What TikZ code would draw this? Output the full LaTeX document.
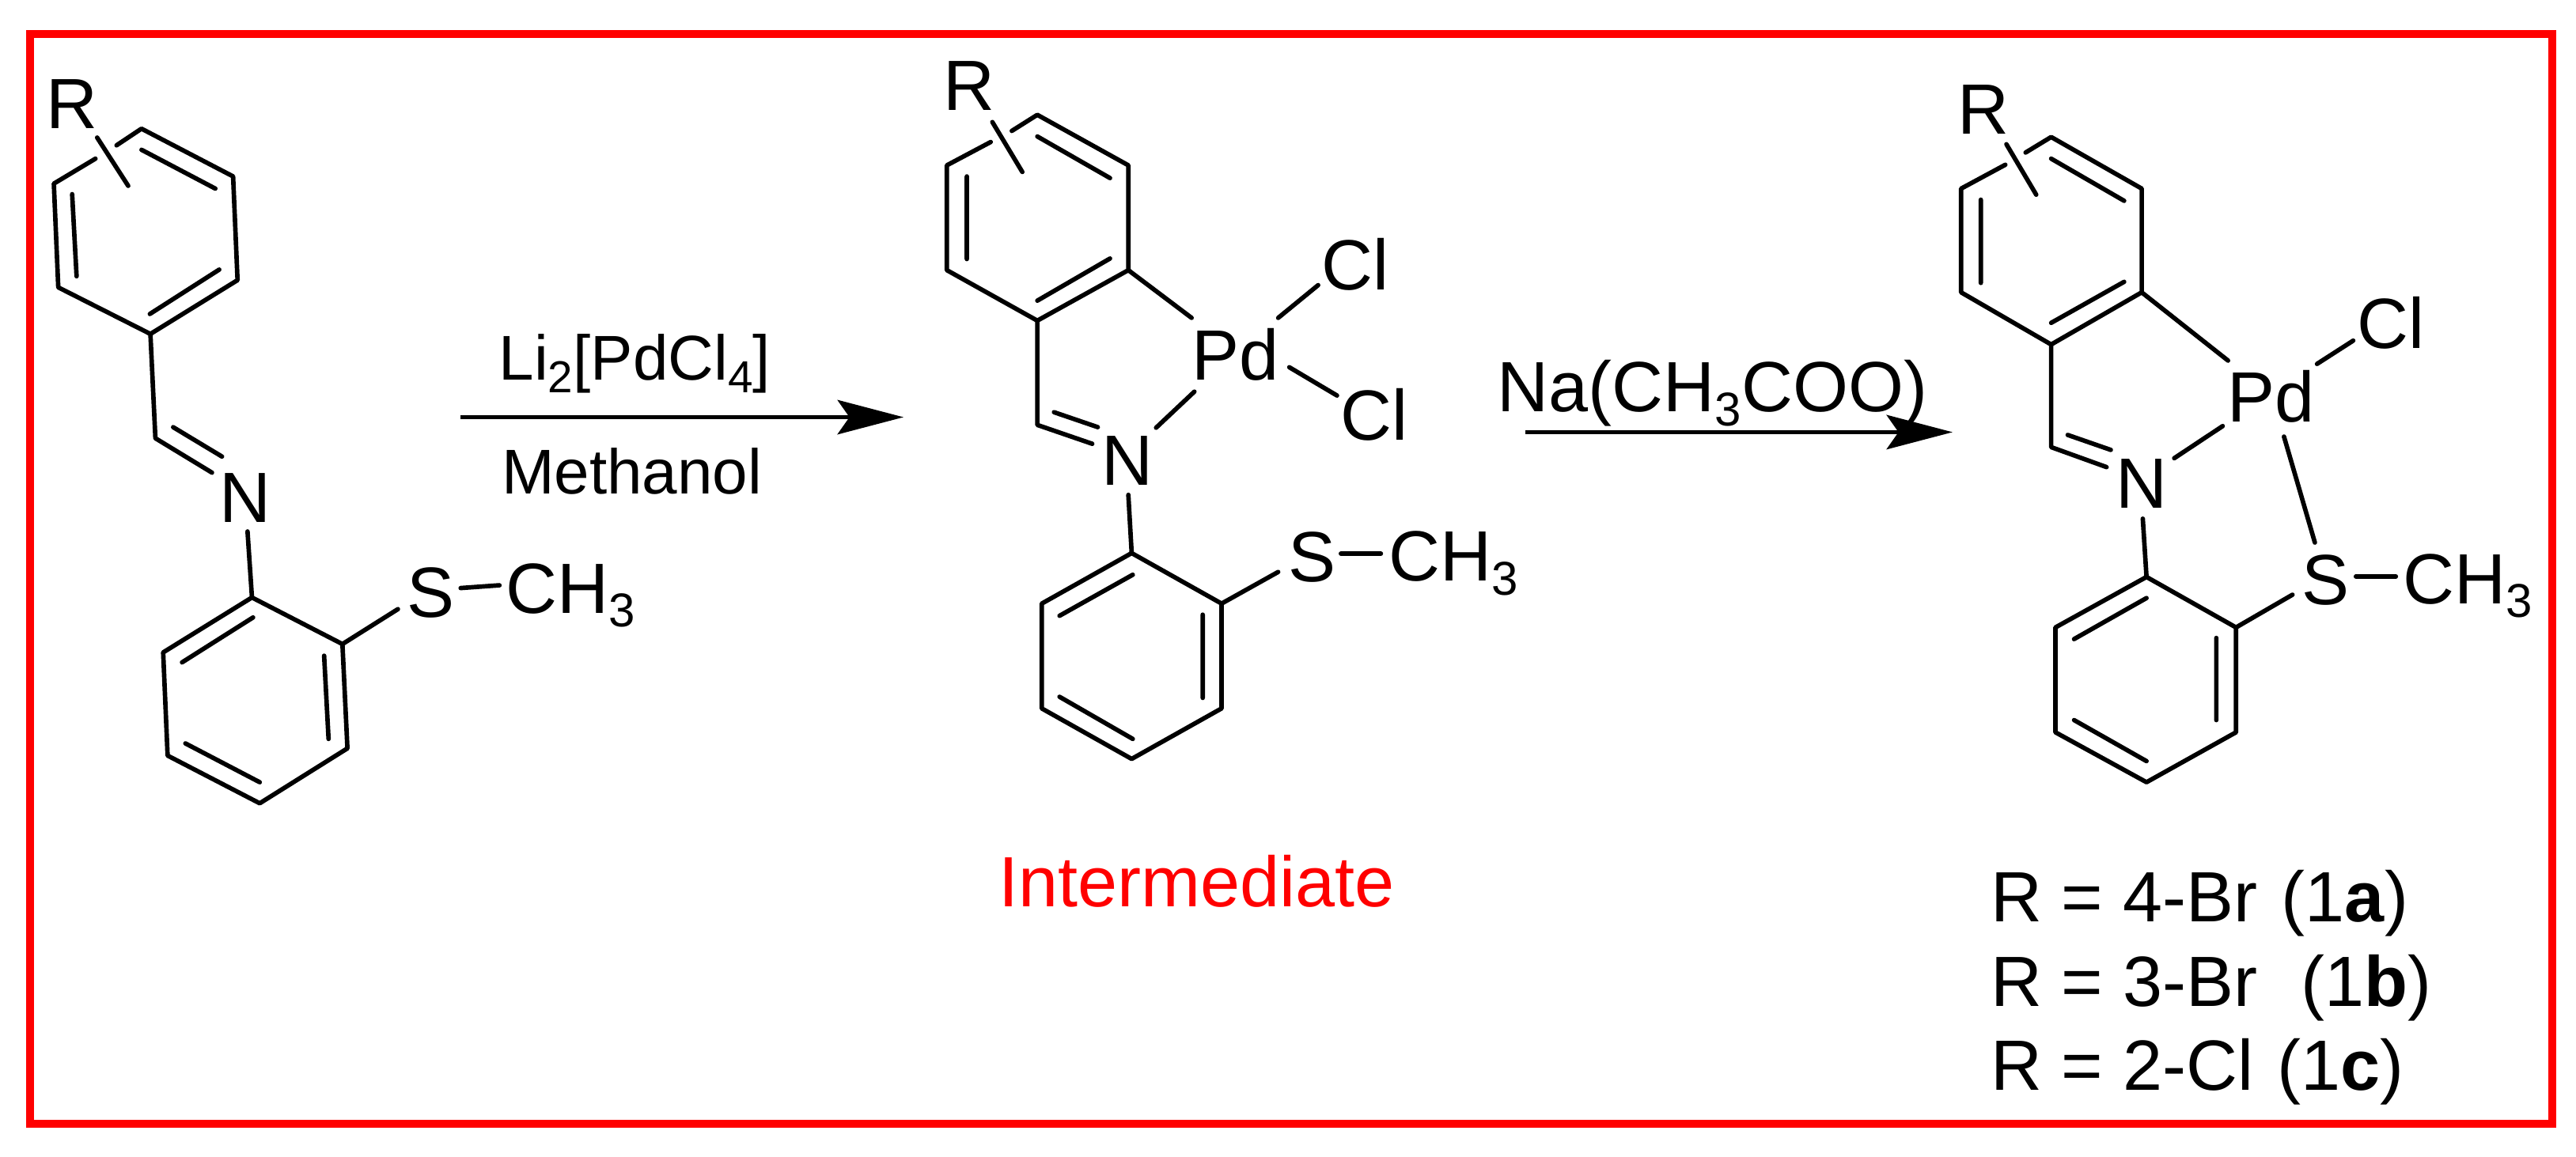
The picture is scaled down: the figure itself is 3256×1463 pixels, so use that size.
\documentclass[tikz,border=0pt]{standalone}
\usepackage{fontspec}
\setmainfont{Liberation Sans}
\usetikzlibrary{arrows.meta}
\newcommand{\sbs}[1]{\raisebox{-5.3pt}{\fontsize{18}{18}\selectfont #1}}
\newcommand{\sbsr}[1]{\raisebox{-4.8pt}{\fontsize{17}{17}\selectfont #1}}
\tikzset{
  bond/.style={line width=1.7pt,line cap=round,line join=round},
  lbl/.style={anchor=base west,inner sep=0pt,outer sep=0pt,font=\fontsize{27}{27}\selectfont},
  reagent/.style={lbl,font=\fontsize{24}{24}\selectfont},
  rxn/.style={line width=1.7pt,-{Stealth[length=25pt,width=13pt,inset=4.5pt]}},
  zoomA/.style={x=0.21045pt,y=-0.21045pt},
  zoomB/.style={x=0.21045pt,y=-0.21045pt,xshift=330pt},
  zoomC/.style={x=0.20202pt,y=-0.21045pt,xshift=660pt}
}
\begin{document}
\begin{tikzpicture}[x=0.3pt,y=-0.3pt]
\useasboundingbox (0,0) rectangle (3256,1463);
\fill[white] (0,0) rectangle (3256,1463);
\draw[red,line width=3pt] (38,43) rectangle (3226,1421);
\node[lbl,text=red] (inter) at (1262,1147) {Intermediate};
\node[lbl] (rowa) at (2516,1166) {R = 4-Br \hspace{1.5pt}(1\textbf{a})};
\node[lbl] (rowb) at (2516,1272) {R = 3-Br \ \hspace{1.5pt}(1\textbf{b})};
\node[lbl] (rowc) at (2516,1378) {R = 2-Cl \hspace{1.5pt}(1\textbf{c})};
% --- first molecule
\begin{scope}[zoomA]
\coordinate (a1) at (255,232);\coordinate (a2) at (420,318);\coordinate (a3) at (428,505);
\coordinate (a4) at (271,602);\coordinate (a5) at (105,518);\coordinate (a6) at (97,331);
\coordinate (ac) at (280,790);
\coordinate (b1) at (454,1077);\coordinate (b2) at (617,1161);\coordinate (b3) at (626,1349);
\coordinate (b4) at (468,1448);\coordinate (b5) at (302,1362);\coordinate (b6) at (294,1176);
\node[lbl] (aR) at (84,232) {R};
\node[lbl] (aN) at (396,942) {N};
\node[lbl] (aS) at (733,1113) {S};
\node[lbl] (aM) at (912,1105) {CH\sbs{3}};
\draw[bond] (210,262)--(a1)--(a2)--(a3)--(a4)--(a5)--(a6)--(172,286);
\draw[bond] (255,270)--(388,340) (395,486)--(270,566) (138,498)--(130,350);
\draw[bond] (175,248)--(231,335);
\draw[bond] (a4)--(ac)--(382,852) (312,770)--(400,823);
\draw[bond] (446,958)--(b1);
\draw[bond] (b1)--(b2)--(b3)--(b4)--(b5)--(b6)--cycle;
\draw[bond] (456,1113)--(328,1194) (584,1182)--(592,1332) (468,1410)--(334,1340);
\draw[bond] (b2)--(717,1098);
\draw[bond] (830,1060)--(900,1055);
\node[reagent] (l1) at (899,685) {Li\sbsr{2}[PdCl\sbsr{4}]};
\node[reagent] (l2) at (904,890) {Methanol};
\coordinate (r1s) at (830,752);\coordinate (r1e) at (1628,752);
\draw[rxn] (r1s)--(r1e);
\end{scope}
% --- second molecule
\begin{scope}[zoomB]
\coordinate (c1) at (301,207);\coordinate (c2) at (465,298);\coordinate (c3) at (465,487);
\coordinate (c4) at (301,578);\coordinate (c5) at (138,487);\coordinate (c6) at (138,298);
\coordinate (cc) at (301,766);
\coordinate (d1) at (471,997);\coordinate (d2) at (633,1088);\coordinate (d3) at (633,1277);
\coordinate (d4) at (471,1368);\coordinate (d5) at (309,1277);\coordinate (d6) at (309,1088);
\node[lbl] (cR) at (132,199) {R};
\node[lbl] (cN) at (417,875) {N};
\node[lbl] (cP) at (580,685) {Pd};
\node[lbl] (cX1) at (813,523) {Cl};
\node[lbl] (cX2) at (847,793) {Cl};
\node[lbl] (cS) at (753,1048) {S};
\node[lbl] (cM) at (934,1047) {CH\sbs{3}};
\draw[bond] (255,236)--(c1)--(c2)--(c3)--(c4)--(c5)--(c6)--(217,256);
\draw[bond] (301,246)--(432,321) (432,466)--(301,542) (174,467)--(174,318);
\draw[bond] (220,220)--(274,310);
\draw[bond] (c4)--(cc)--(400,800) (331,743)--(410,770);
\draw[bond] (465,892)--(d1);
\draw[bond] (c3)--(579,573) (515,771)--(584,706);
\draw[bond] (735,573)--(807,514) (755,662)--(841,713);
\draw[bond] (d1)--(d2)--(d3)--(d4)--(d5)--(d6)--cycle;
\draw[bond] (473,1036)--(341,1110) (599,1108)--(599,1258) (473,1332)--(341,1256);
\draw[bond] (d2)--(735,1031);
\draw[bond] (848,998)--(920,998);
\node[lbl] (l3) at (1130,742) {Na(CH\sbs{3}COO)};
\coordinate (r2s) at (1180,779);
\end{scope}
% --- third molecule
\begin{scope}[zoomC]
\coordinate (e1) at (583,247);\coordinate (e2) at (753,340);\coordinate (e3) at (753,527);
\coordinate (e4) at (583,621);\coordinate (e5) at (414,527);\coordinate (e6) at (414,340);
\coordinate (ec) at (583,806);
\coordinate (f1) at (762,1040);\coordinate (f2) at (930,1131);\coordinate (f3) at (930,1320);
\coordinate (f4) at (762,1410);\coordinate (f5) at (591,1320);\coordinate (f6) at (591,1131);
\node[lbl] (eR) at (408,241) {R};
\node[lbl] (eN) at (704,916) {N};
\node[lbl] (eP) at (914,760) {Pd};
\node[lbl] (eX) at (1158,628) {Cl};
\node[lbl] (eS) at (1054,1090) {S};
\node[lbl] (eM) at (1244,1088) {CH\sbs{3}};
\draw[bond] (535,275)--(e1)--(e2)--(e3)--(e4)--(e5)--(e6)--(497,297);
\draw[bond] (583,286)--(720,362) (720,508)--(583,582) (451,510)--(451,360);
\draw[bond] (499,260)--(555,351);
\draw[bond] (e4)--(ec)--(687,842) (614,784)--(695,811);
\draw[bond] (755,935)--(f1);
\draw[bond] (e3)--(915,650) (814,826)--(905,768);
\draw[bond] (1082,656)--(1150,614) (1020,787)--(1078,978);
\draw[bond] (f1)--(f2)--(f3)--(f4)--(f5)--(f6)--cycle;
\draw[bond] (762,1078)--(626,1152) (893,1150)--(893,1298) (762,1372)--(626,1298);
\draw[bond] (f2)--(1036,1072);
\draw[bond] (1155,1039)--(1230,1039);
\coordinate (r2e) at (398,779);
\end{scope}
\draw[rxn] (r2s)--(r2e);
\end{tikzpicture}
\end{document}
